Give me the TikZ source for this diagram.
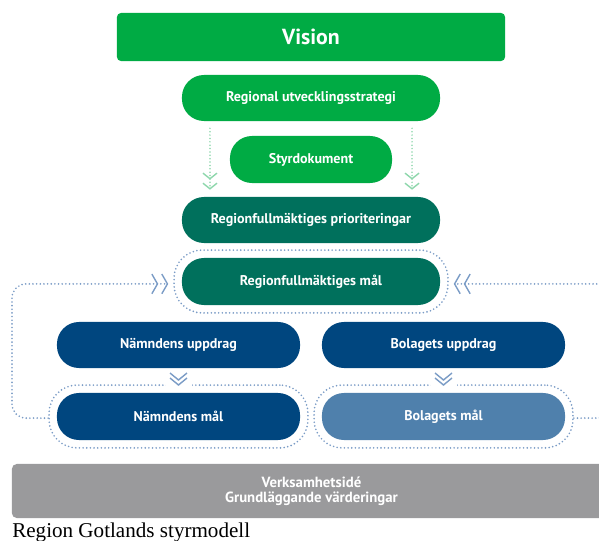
\documentclass[tikz,border=0pt]{standalone}
\usepackage{fontspec}
\setmainfont{Liberation Serif}
\setsansfont{PT Sans}
\usetikzlibrary{arrows.meta,fit,calc}

\definecolor{visiongreen}{HTML}{00AB44}
\definecolor{rfteal}{HTML}{00705C}
\definecolor{nblue}{HTML}{00467F}
\definecolor{bblue}{HTML}{4F80AC}
\definecolor{basegrey}{HTML}{9A9A9C}
\definecolor{dotblue}{HTML}{7B9CC6}
\definecolor{dotgreen}{HTML}{8ED7AC}

\begin{document}
\begin{tikzpicture}[x=0.025cm, y=-0.025cm,
    pill/.style={text=white, font=\sffamily\bfseries\fontsize{10}{12}\selectfont, minimum width=6.45cm, minimum height=1.15cm, rounded corners=0.55cm, inner sep=0pt},
    outline/.style={draw=dotblue, line width=1.3pt, dash pattern=on 0pt off 2.6pt, line cap=round, rounded corners=0.7cm, inner sep=0.19cm},
    loopline/.style={draw=dotblue, line width=1.3pt, dash pattern=on 0pt off 2.6pt, line cap=round, rounded corners=0.35cm},
    greenline/.style={draw=dotgreen, line width=1.2pt, dash pattern=on 0pt off 2.4pt, line cap=round},
    dblbarb/.style={-{Straight Barb[length=4pt,width=#1,line width=1pt,sep=2pt] Straight Barb[length=4pt,width=#1,line width=1pt]}},
    dchev/.pic={
        \fill [white] (-13,-7) rectangle (13,7) ;
        \draw [dotblue, line width=1pt] (-8.5,-7.5) -- (0,-0.5) -- (8.5,-7.5) ;
        \draw [dotblue, line width=1pt] (-8.5,-2.5) -- (0,4.5) -- (8.5,-2.5) ;
    }]
    \useasboundingbox (0,0) rectangle (599,540) ;
    \clip (0,0) rectangle (599,540) ;

    \node [fill=visiongreen, text=white, font=\sffamily\bfseries\fontsize{15.5}{18}\selectfont, minimum width=9.7cm, minimum height=1.2cm, rounded corners=0.1cm] (vision) at (311,37) {Vision} ;
    \node [pill, fill=visiongreen] (rus) at (311,98) {Regional utvecklingsstrategi} ;
    \node [pill, fill=visiongreen, minimum width=4.05cm, minimum height=1.175cm] (styr) at (311,159.5) {Styrdokument} ;
    \node [pill, fill=rfteal] (prio) at (311,220) {Regionfullmäktiges prioriteringar} ;
    \node [pill, fill=rfteal, minimum height=1.175cm] (rfmal) at (311,281.5) {Regionfullmäktiges mål} ;

    \node [pill, fill=nblue, minimum width=6.075cm] (nupp) at (178.5,345) {Nämndens uppdrag} ;
    \node [pill, fill=nblue, minimum width=6.075cm] (bupp) at (443.5,345) {Bolagets uppdrag} ;
    \node [pill, fill=nblue, minimum width=6.075cm, minimum height=1.175cm] (nmal) at (178.5,416.5) {Nämndens mål} ;
    \node [pill, fill=bblue, minimum width=6.075cm, minimum height=1.175cm] (bmal) at (443.5,416.5) {Bolagets mål} ;

    \node [fill=basegrey, text=white, font=\sffamily\bfseries\fontsize{10.5}{10.5}\selectfont, align=center, minimum width=14.975cm, minimum height=1.35cm, rounded corners=0.12cm] (base) at (311.5,491) {Verksamhetsidé\\Grundläggande värderingar} ;
    \node [anchor=base west, font=\fontsize{15}{17}\selectfont, inner sep=0pt] (caption) at (12,537) {Region Gotlands styrmodell} ;

    \node [outline, fit=(rfmal)] (rfout) {} ;
    \node [outline, fit=(nmal)] (nmalout) {} ;
    \node [outline, fit=(bmal)] (bmalout) {} ;

    \draw [greenline, dblbarb=10pt, dotgreen, shorten <=5pt, shorten >=5pt] ([xshift=-2.525cm]rus.south) -- ([xshift=-2.525cm]prio.north) ;
    \draw [greenline, dblbarb=10pt, dotgreen, shorten <=5pt, shorten >=5pt] ([xshift=2.525cm]rus.south) -- ([xshift=2.525cm]prio.north) ;

    \coordinate (edgeL) at (12,350) ;
    \coordinate (edgeR) at (612,350) ;
    \draw [loopline, dblbarb=14pt, shorten >=3.5pt] ([yshift=-0.04cm]nmalout.west) -| (edgeL) |- ([yshift=-0.06cm]rfout.west) ;
    \draw [loopline, dblbarb=14pt, shorten >=3.5pt] ([yshift=-0.04cm]bmalout.east) -| (edgeR) |- ([yshift=-0.06cm]rfout.east) ;

    \pic at ($(nupp.south)!0.5!(nmal.north)$) {dchev} ;
    \pic at ($(bupp.south)!0.5!(bmal.north)$) {dchev} ;
\end{tikzpicture}
\end{document}
